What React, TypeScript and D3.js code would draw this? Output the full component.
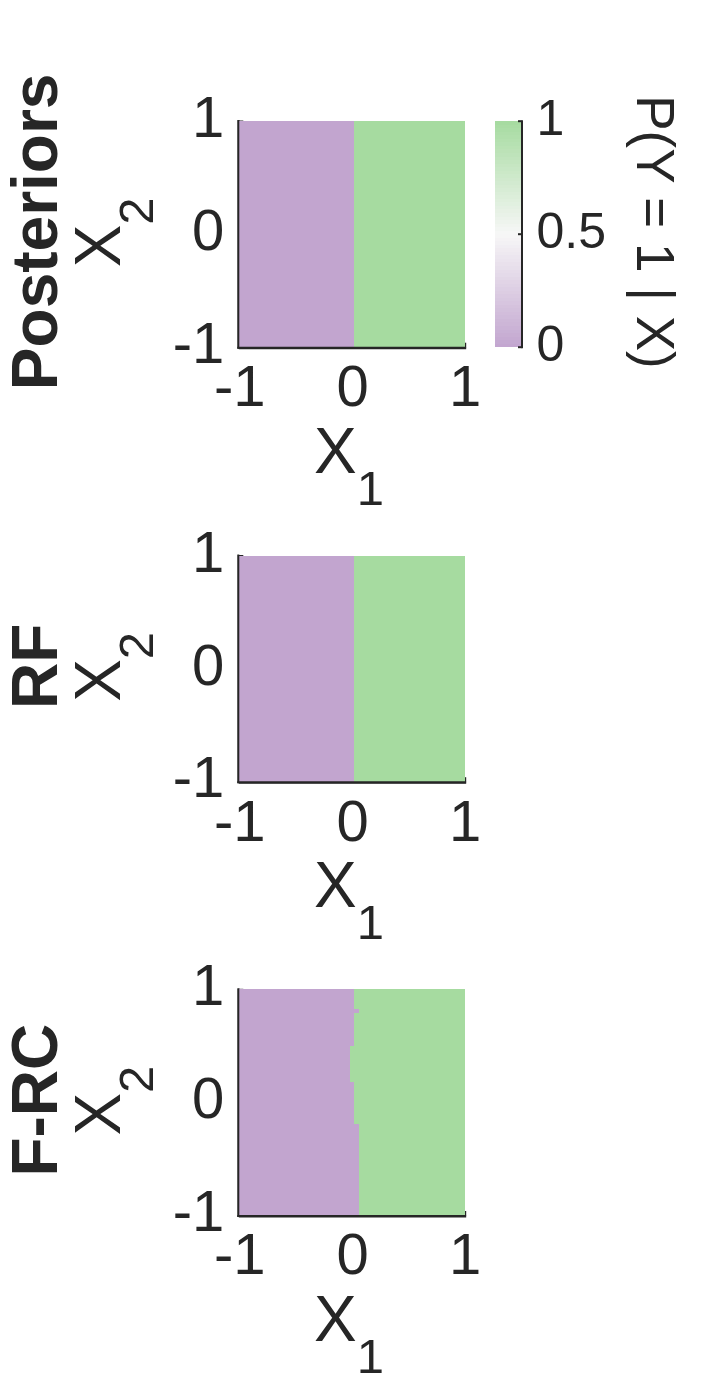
import React, { useEffect, useRef } from 'react'
import * as d3 from 'd3'

// panel titles
const panelNames = ['Posteriors', 'RF', 'F-RC']

// tick values
const xTicks = [-1, 0, 1]
const yTicks = [-1, 0, 1]
const cbTicks = [0, 0.5, 1]

// decision boundary (X1 value) for each band of X2, bands given by their edges
const posteriorBreaks = [1, -1]
const posteriorBoundary = [0.02]
const rfBreaks = [1, -1]
const rfBoundary = [0.02]
const frcBreaks = [1, 0.83, 0.79, 0.5, 0.18, -0.19, -1]
const frcBoundary = [0.02, 0.06, 0.02, -0.02, 0.02, 0.06]

const classColors = ['#c2a5cf', '#a6dba0']
const cbStops = ['#c2a5cf', '#f7f7f7', '#a6dba0']
const cbLevels = 64

const TXT = '#262626'
const FONT = '"Liberation Sans", Arial, Helvetica, sans-serif'

const App = () => {
    const Chart = useRef<SVGSVGElement>(null)

    useEffect(() => {
        const svg = d3.select(Chart.current)
        svg.selectAll('*').remove()

        const panels = [
            { breaks: posteriorBreaks, bound: posteriorBoundary },
            { breaks: rfBreaks, bound: rfBoundary },
            { breaks: frcBreaks, bound: frcBoundary },
        ]

        const left = 239.3
        const right = 464.7
        const size = 225.7
        const tops = [121, 555.5, 989.3]

        const x = d3.scaleLinear().domain([-1, 1]).range([left, right])

        tops.forEach((top, i) => {
            const y = d3.scaleLinear().domain([-1, 1]).range([top + size, top])
            const bottom = top + size
            const g = svg.append('g')

            // axes (drawn under the image so inner ticks get hidden)
            const gy = g.append('g')
                .attr('transform', `translate(${left - 1},0)`)
                .call(d3.axisLeft(y).tickValues(yTicks).tickSizeInner(-5).tickSizeOuter(0)
                    .tickPadding(14).tickFormat(d => String(d)))
            const gx = g.append('g')
                .attr('transform', `translate(0,${bottom + 1})`)
                .call(d3.axisBottom(x).tickValues(xTicks).tickSizeInner(-5).tickSizeOuter(0)
                    .tickPadding(17.3).tickFormat(d => String(d)))
            ;[gy, gx].forEach(a => {
                a.attr('font-size', null).attr('font-family', null)
                a.select('.domain').attr('stroke', TXT).attr('stroke-width', 2).attr('stroke-linecap', 'square')
                a.selectAll('.tick line').attr('stroke', TXT).attr('stroke-width', 2)
                a.selectAll('.tick text')
                    .attr('fill', TXT)
                    .style('font-size', '58px')
                    .style('font-family', FONT)
            })
            gy.selectAll('.tick text').attr('dy', '0.27em')

            // class regions
            const p = panels[i]
            const bands = p.bound.map((b, k) => ({ y0: p.breaks[k], y1: p.breaks[k + 1], b }))
            const img = g.append('g').attr('shape-rendering', 'crispEdges')
            img.selectAll('rect.neg')
                .data(bands)
                .join('rect')
                .attr('class', 'neg')
                .attr('x', x(-1))
                .attr('y', d => y(d.y0))
                .attr('width', d => x(d.b) - x(-1))
                .attr('height', d => y(d.y1) - y(d.y0) + 0.5)
                .attr('fill', classColors[0])
            img.selectAll('rect.pos')
                .data(bands)
                .join('rect')
                .attr('class', 'pos')
                .attr('x', d => x(d.b))
                .attr('y', d => y(d.y0))
                .attr('width', d => x(1) - x(d.b))
                .attr('height', d => y(d.y1) - y(d.y0) + 0.5)
                .attr('fill', classColors[1])

            // redraw domain lines on top
            g.append('line')
                .attr('x1', left - 1).attr('x2', left - 1)
                .attr('y1', top).attr('y2', bottom + 1)
                .attr('stroke', TXT).attr('stroke-width', 2).attr('stroke-linecap', 'square')
            g.append('line')
                .attr('x1', left - 1).attr('x2', right)
                .attr('y1', bottom + 1).attr('y2', bottom + 1)
                .attr('stroke', TXT).attr('stroke-width', 2).attr('stroke-linecap', 'square')

            const cy = top + size / 2 - 2

            // panel title
            g.append('text')
                .attr('transform', `translate(57,${cy}) rotate(-90)`)
                .attr('text-anchor', 'middle')
                .attr('fill', TXT)
                .style('font-family', FONT)
                .style('font-size', '64px')
                .style('font-weight', 'bold')
                .text(panelNames[i])

            // y label
            const yl = g.append('text')
                .attr('transform', `translate(120,${cy + 0.5}) rotate(-90)`)
                .attr('text-anchor', 'middle')
                .attr('fill', TXT)
                .style('font-family', FONT)
                .style('font-size', '64px')
            yl.append('tspan').text('X')
            yl.append('tspan').attr('dy', 33).style('font-size', '49px').text('2')

            // x label
            const xl = g.append('text')
                .attr('transform', `translate(${(left + right) / 2 - 3},${bottom + 126})`)
                .attr('text-anchor', 'middle')
                .attr('fill', TXT)
                .style('font-family', FONT)
                .style('font-size', '64px')
            xl.append('tspan').text('X')
            xl.append('tspan').attr('dy', 32).style('font-size', '49px').text('1')
        })

        // colorbar
        const cbLeft = 495
        const cbRight = 521.5
        const cbY = d3.scaleLinear().domain([0, 1]).range([346.7, 120.7])
        const cbColor = d3.scaleLinear<string>().domain([0, 0.5, 1]).range(cbStops)
        const levels = d3.range(cbLevels)
        const cb = svg.append('g')
        cb.append('g').attr('shape-rendering', 'crispEdges')
            .selectAll('rect')
            .data(levels)
            .join('rect')
            .attr('x', cbLeft)
            .attr('width', cbRight - cbLeft)
            .attr('y', k => cbY((k + 1) / cbLevels))
            .attr('height', k => cbY(k / cbLevels) - cbY((k + 1) / cbLevels) + 0.5)
            .attr('fill', k => cbColor((k + 0.5) / cbLevels))
        const ca = cb.append('g')
            .attr('transform', `translate(${cbRight},0)`)
            .call(d3.axisRight(cbY).tickValues(cbTicks).tickSizeInner(-3.5).tickSizeOuter(0)
                .tickPadding(15).tickFormat(d => String(d)))
        ca.attr('font-size', null).attr('font-family', null)
        ca.select('.domain').attr('stroke', TXT).attr('stroke-width', 2).attr('stroke-linecap', 'square')
        ca.selectAll('.tick line').attr('stroke', TXT).attr('stroke-width', 2)
        ca.selectAll('.tick text')
            .attr('fill', TXT)
            .attr('dy', '0.27em')
            .style('font-size', '50px')
            .style('font-family', FONT)

        cb.append('text')
            .attr('transform', `translate(636.7,232) rotate(90)`)
            .attr('text-anchor', 'middle')
            .attr('fill', TXT)
            .style('font-family', FONT)
            .style('font-size', '53px')
            .text('P(Y = 1 | X)')
    }, [])

    return (
        <div>
            <svg ref={Chart} width={703} height={1395}
                style={{ position: 'absolute', left: 0, top: 0, background: '#fff' }}></svg>
        </div>
    )
}

export default App
